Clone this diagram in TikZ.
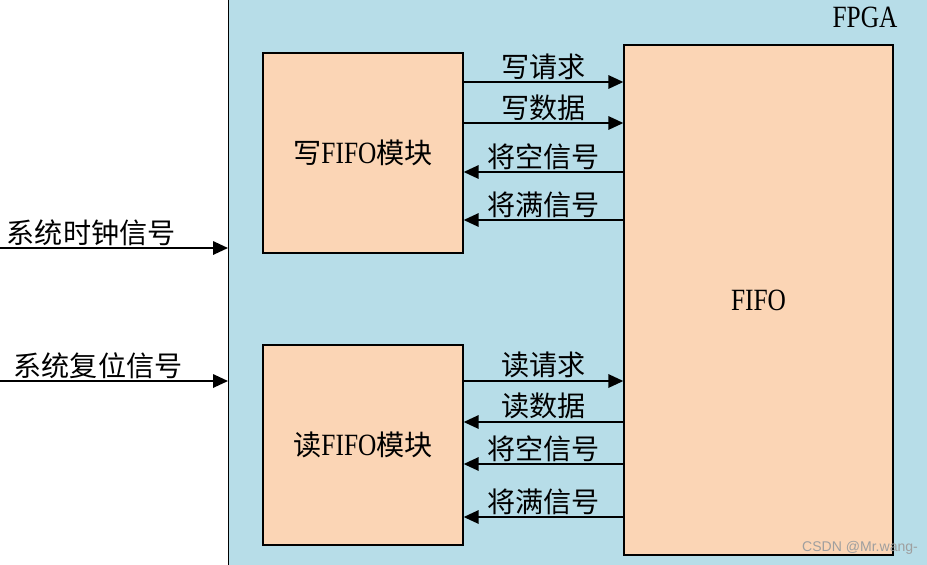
\documentclass[tikz,border=0pt]{standalone}
\usepackage{fontspec}
\setmainfont[FakeStretch=0.82, Scale=1.1]{Liberation Serif}
\newfontfamily\cjk{Noto Sans CJK SC}
\newfontfamily\wmfont{Liberation Sans}
\usetikzlibrary{arrows.meta,positioning}
\definecolor{fpgablue}{RGB}{183,221,232}
\definecolor{modpeach}{RGB}{251,213,181}
\newcommand{\zh}[1]{{\cjk #1}}
\tikzset{
  modbox/.style={draw=black, line width=0.8pt, fill=modpeach, inner sep=0pt, font=\fontsize{16}{19}\selectfont},
  sig/.style={line width=1pt, -{Triangle[length=0.3cm,width=0.27cm]}},
  siglabel/.style={above, inner sep=1pt, font=\fontsize{16}{19}\selectfont\cjk},
}
\begin{document}
\begin{tikzpicture}
\clip (0,0) rectangle (18.54,-11.28);
% FPGA area
\node[draw=black, line width=0.8pt, fill=fpgablue, anchor=north west, minimum width=15cm, minimum height=12cm] (fpga) at (4.56,0.3) {};
\node[font=\fontsize{16}{19}\selectfont] (fpgalabel) at (17.3,-0.34) {FPGA};
% modules
\node[modbox, minimum width=4cm, minimum height=4cm] (wr) at (7.26,-3.06) {\zh{写}FIFO\zh{模块}};
\node[modbox, minimum width=4cm, minimum height=4cm] (rd) at (7.26,-8.9) {\zh{读}FIFO\zh{模块}};
\node[modbox, minimum width=5.38cm, minimum height=10.2cm] (fifo) at (15.17,-6.0) {FIFO};
% write side
\draw[sig] (wr.east |- 0,-1.64) -- node[siglabel]{写请求} (fifo.west |- 0,-1.64);
\draw[sig] (wr.east |- 0,-2.46) -- node[siglabel]{写数据} (fifo.west |- 0,-2.46);
\draw[sig] (fifo.west |- 0,-3.44) -- node[siglabel]{将空信号} (wr.east |- 0,-3.44);
\draw[sig] (fifo.west |- 0,-4.40) -- node[siglabel]{将满信号} (wr.east |- 0,-4.40);
% read side
\draw[sig] (rd.east |- 0,-7.62) -- node[siglabel]{读请求} (fifo.west |- 0,-7.62);
\draw[sig] (fifo.west |- 0,-8.44) -- node[siglabel]{读数据} (rd.east |- 0,-8.44);
\draw[sig] (fifo.west |- 0,-9.28) -- node[siglabel]{将空信号} (rd.east |- 0,-9.28);
\draw[sig] (fifo.west |- 0,-10.34) -- node[siglabel]{将满信号} (rd.east |- 0,-10.34);
% inputs
\coordinate (clkin) at (0,-4.96);
\coordinate (rstin) at (0,-7.62);
\draw[sig] (clkin) -- node[siglabel, pos=0.4]{系统时钟信号} (fpga.west |- clkin);
\draw[sig] (rstin) -- node[siglabel, pos=0.43]{系统复位信号} (fpga.west |- rstin);
\node[font=\wmfont\fontsize{8}{9}\selectfont, text=gray!75] (mark) at (17.2,-10.96) {CSDN @Mr.wang-};
\end{tikzpicture}
\end{document}
